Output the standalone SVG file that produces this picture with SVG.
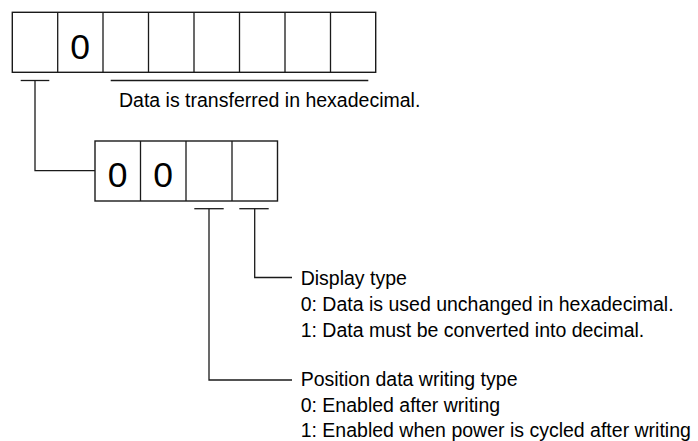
<svg xmlns="http://www.w3.org/2000/svg" width="698" height="441" viewBox="0 0 698 441">
<style>
.box{fill:#fff;stroke:#1a1a1a;stroke-width:1.4}
.ln{fill:none;stroke:#1a1a1a;stroke-width:1.3}
.dig{font-family:"Liberation Sans",Arial,sans-serif;font-size:35.5px;fill:#000;text-anchor:middle}
.t{font-family:"Liberation Sans",Arial,sans-serif;font-size:19.5px;fill:#000}
</style>
<rect width="698" height="441" fill="#fff"/>
<g id="top-register">
<rect class="box" x="12.3" y="12.3" width="363.4" height="60"/>
<path class="ln" d="M57.7 12.3V72.3M103 12.3V72.3M148.5 12.3V72.3M194 12.3V72.3M239.5 12.3V72.3M285 12.3V72.3M330.5 12.3V72.3"/>
<text class="dig" x="80" y="59.3">0</text>
</g>
<g id="hex-note">
<line class="ln" x1="110.7" y1="80.5" x2="368.3" y2="80.5"/>
<text class="t" x="119" y="107.3">Data is transferred in hexadecimal.</text>
</g>
<g id="sub-register">
<rect class="box" x="95" y="141" width="182.5" height="60"/>
<path class="ln" d="M140.5 141V201M186 141V201M232 141V201"/>
<text class="dig" x="117.7" y="187.3">0</text>
<text class="dig" x="163.2" y="187.3">0</text>
</g>
<g id="display-type">
<text class="t" x="300.7" y="285.3">Display type</text>
<text class="t" x="300.7" y="311">0: Data is used unchanged in hexadecimal.</text>
<text class="t" x="300.7" y="336.7">1: Data must be converted into decimal.</text>
</g>
<g id="position-type">
<text class="t" x="300.7" y="386.3">Position data writing type</text>
<text class="t" x="300.7" y="411.8">0: Enabled after writing</text>
<text class="t" x="300.7" y="437.3">1: Enabled when power is cycled after writing</text>
</g>
<g id="connectors">
<line class="ln" x1="20.7" y1="80.5" x2="49.3" y2="80.5"/>
<polyline class="ln" points="35,80.5 35,170.7 95,170.7"/>
<line class="ln" x1="194.3" y1="208.7" x2="223.7" y2="208.7"/>
<line class="ln" x1="239.3" y1="208.7" x2="268.7" y2="208.7"/>
<polyline class="ln" points="254.7,208.7 254.7,277.5 292,277.5"/>
<polyline class="ln" points="209,208.7 209,380 292,380"/>
</g>
</svg>
